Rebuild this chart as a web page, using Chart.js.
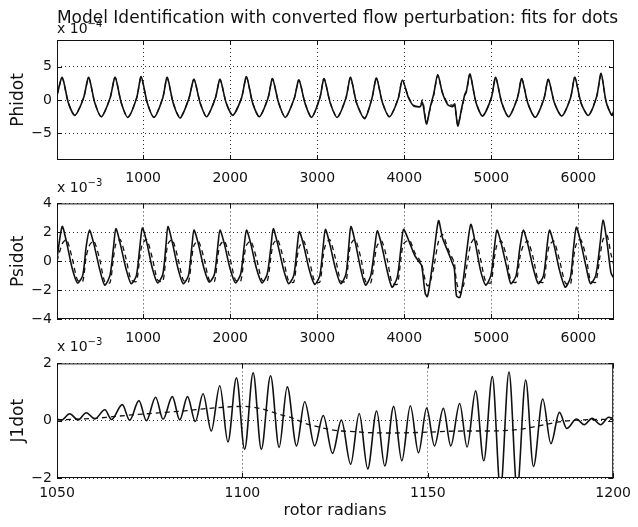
<!DOCTYPE html>
<html><head><meta charset="utf-8">
<script src="https://cdn.jsdelivr.net/npm/chart.js@4.4.1/dist/chart.umd.min.js"></script>
<style>
html,body{margin:0;padding:0;background:#fff;}
#wrap{position:relative;width:638px;height:527px;overflow:hidden;font-family:"DejaVu Sans",sans-serif;color:#111;}
canvas{position:absolute;left:0;}
.t{position:absolute;white-space:nowrap;line-height:1;}
.t sup{font-size:10px;position:relative;top:-2px;vertical-align:top;}
</style></head><body>
<div id="wrap">
<canvas id="c1" width="638" height="190" style="top:0px"></canvas>
<canvas id="c2" width="638" height="160" style="top:190px"></canvas>
<canvas id="c3" width="638" height="177" style="top:350px"></canvas>
<div class="t" style="left:57px;top:21px;font-size:14px;">x 10<sup>−4</sup></div>
<div class="t" style="left:57px;top:180px;font-size:14px;">x 10<sup>−3</sup></div>
<div class="t" style="left:57px;top:339px;font-size:14px;">x 10<sup>−3</sup></div>
<div class="t" style="left:0px;width:675px;text-align:center;top:9px;font-size:17px;">Model Identification with converted flow perturbation: fits for dots</div>
</div>
<script>
// ---------- tick labels ----------
const sampleTicks = [1000, 2000, 3000, 4000, 5000, 6000];
const radianTicks = [1050, 1100, 1150, 1200];
const phiTicksY = [-5, 0, 5];
const psiTicksY = [-4, -2, 0, 2, 4];
const j1TicksY = [-2, 0, 2];

// ---------- Panel 1: Phidot (x 10^-4) ----------
const phiX = [10,
 70,140,215,315, 374,444,520,620, 678,748,825,925, 977,1047,1125,1225,
 1276,1346,1425,1525, 1584,1654,1730,1830, 1883,1953,2030,2130, 2187,2257,2335,2435,
 2486,2556,2635,2735, 2790,2860,2935,3030, 3079,3149,3230,3330, 3383,3453,3545,3630,
 3680,3750,3830,3930,
 3978,4050,4110,4180,4210,4255,4300,4340,
 4385,4440,4500,4555,4580,4615,4660,4695,4715,
 4755,4825,4900,5000, 5050,5120,5200,5300, 5350,5420,5505,5605, 5655,5725,5810,5910,
 5960,6030,6115,6210, 6262,6320,6385,6410];
const phiMeas = [0.7,
 3.4,-0.4,-2.3,0.3, 3.4,-0.4,-2.5,0.3, 3.4,-0.4,-2.6,0.3, 3.5,-0.4,-2.6,0.3,
 3.4,-0.5,-2.7,0.2, 3.1,-0.4,-2.5,0.3, 3.1,-0.4,-2.3,0.3, 3.5,-0.4,-2.5,0.3,
 3.2,-0.4,-2.6,0.2, 3.0,-0.5,-2.6,0.3, 3.2,-0.4,-2.6,0.3, 3.4,-0.5,-2.8,0.3,
 3.3,-0.4,-2.5,0.2,
 3.0,0.3,-0.9,-1.0,-0.4,-3.6,-1.0,1.0,
 3.8,1.0,-0.7,-1.0,-0.6,-3.9,-1.2,0.8,1.4,
 3.9,-0.4,-2.4,0.3, 3.4,-0.4,-2.5,0.3, 3.2,-0.5,-2.6,0.2, 3.1,-0.4,-2.4,0.3,
 3.4,-0.4,-2.3,0.5, 4.0,-0.3,-2.3,-1.6];
const phiFit = [0.7,
 3.3,-0.4,-2.3,0.3, 3.3,-0.4,-2.5,0.3, 3.4,-0.4,-2.6,0.3, 3.4,-0.4,-2.6,0.3,
 3.3,-0.5,-2.6,0.2, 3.1,-0.4,-2.5,0.3, 3.1,-0.4,-2.3,0.3, 3.4,-0.4,-2.5,0.3,
 3.2,-0.4,-2.6,0.2, 3.0,-0.5,-2.6,0.3, 3.2,-0.4,-2.6,0.3, 3.3,-0.5,-2.7,0.3,
 3.3,-0.4,-2.5,0.2,
 3.0,0.4,-0.8,-0.9,0.0,-3.3,-1.2,0.8,
 3.7,1.1,-0.5,-0.8,-0.9,-3.7,-1.4,0.6,1.2,
 3.8,-0.4,-2.4,0.3, 3.4,-0.4,-2.5,0.3, 3.2,-0.5,-2.6,0.2, 3.1,-0.4,-2.4,0.3,
 3.4,-0.4,-2.3,0.5, 3.8,-0.3,-2.3,-1.6];

// ---------- Panel 2: Psidot (x 10^-3) ----------
const psiX = [10,
 70,120,185,245,305,345,
 383,433,498,558,618,658,
 687,737,802,862,922,962,
 991,1041,1106,1166,1226,1262,
 1285,1335,1400,1460,1520,1558,
 1584,1634,1699,1759,1819,1857,
 1883,1933,1998,2060,2120,2160,
 2187,2237,2302,2365,2425,2468,
 2495,2545,2610,2670,2730,2768,
 2794,2844,2909,2970,3030,3068,
 3094,3144,3209,3270,3330,3362,
 3387,3437,3502,3555,3615,3660,
 3690,3740,3805,3860,3920,3962,
 3992,4060,4120,4165,4200,4240,4265,4290,4340,
 4394,4440,4500,4545,4575,4600,4640,4680,4720,
 4765,4815,4875,4935,4995,5035,
 5065,5115,5180,5225,5285,5330,
 5368,5418,5483,5540,5600,5640,
 5668,5718,5783,5850,5910,5945,
 5978,6028,6093,6140,6200,6250,
 6284,6330,6375,6410];
const psiMeas = [0.2,
 2.4,1.3,-0.5,-1.5,-1.0,1.0,
 2.15,1.2,-0.5,-1.65,-1.0,0.9,
 2.25,1.2,-0.5,-1.55,-1.0,1.0,
 2.3,1.3,-0.5,-1.5,-0.9,1.1,
 2.4,1.3,-0.5,-1.55,-1.0,0.9,
 2.15,1.2,-0.5,-1.45,-0.9,1.0,
 2.15,1.2,-0.5,-1.5,-0.9,1.0,
 2.15,1.2,-0.5,-1.5,-0.9,1.0,
 2.25,1.2,-0.5,-1.55,-1.0,0.9,
 2.05,1.1,-0.6,-1.6,-1.0,1.0,
 2.2,1.2,-0.5,-1.55,-0.9,1.0,
 2.4,1.3,-0.6,-1.65,-1.0,0.9,
 2.1,1.1,-0.7,-1.8,-1.1,0.9,
 2.2,1.3,0.4,0.0,-0.3,-2.2,-2.45,-1.7,0.5,
 2.8,1.6,0.7,0.0,-0.5,-2.4,-2.5,-1.2,0.8,
 2.55,1.3,-0.6,-1.65,-1.0,0.9,
 2.15,1.2,-0.5,-1.55,-1.0,1.0,
 2.15,1.2,-0.5,-1.55,-1.0,1.0,
 2.15,1.2,-0.6,-1.8,-1.1,0.9,
 2.35,1.3,-0.5,-1.55,-1.0,1.2,
 2.85,1.3,-0.8,-1.2];
const psiFit = [0.0,
 1.2,1.5,0.2,-1.3,-1.4,0.3,
 1.1,1.4,0.2,-1.4,-1.5,0.2,
 1.2,1.5,0.2,-1.3,-1.4,0.3,
 1.2,1.5,0.2,-1.3,-1.4,0.3,
 1.2,1.5,0.2,-1.3,-1.45,0.2,
 1.1,1.4,0.2,-1.3,-1.4,0.3,
 1.1,1.4,0.2,-1.3,-1.4,0.3,
 1.1,1.4,0.2,-1.3,-1.4,0.3,
 1.2,1.5,0.2,-1.35,-1.45,0.2,
 1.0,1.4,0.1,-1.4,-1.45,0.3,
 1.1,1.5,0.2,-1.35,-1.4,0.3,
 1.2,1.5,0.2,-1.4,-1.5,0.2,
 1.1,1.4,0.1,-1.5,-1.6,0.2,
 1.2,1.45,0.6,0.2,-0.2,-1.3,-1.7,-1.6,-0.4,
 1.4,1.85,0.9,0.3,-0.1,-1.4,-2.2,-1.7,-0.3,
 1.2,1.6,0.2,-1.4,-1.5,0.2,
 1.1,1.4,0.2,-1.35,-1.45,0.3,
 1.1,1.4,0.2,-1.35,-1.45,0.3,
 1.1,1.4,0.1,-1.5,-1.6,0.2,
 1.2,1.5,0.2,-1.35,-1.45,0.4,
 1.5,1.8,0.5,-0.3];

// ---------- Panel 3: J1dot (x 10^-3) vs rotor radians ----------
const j1X = [1050,1051.2,1053.4,1055.7,1057.9,1060.2,1062.9,1064.7,1067.6,1069.6,
 1072.1,1074.1,1076.6,1078.6,1081.1,1083.1,1085.2,1087.3,1089.4,1091.6,
 1093.9,1096.1,1098.4,1100.6,1102.9,1105.1,1107.6,1109.9,1112.1,1114.6,
 1116.8,1119.5,1121.8,1124.3,1126.7,1129.2,1131.5,1133.8,1136.2,1138.4,
 1140.8,1143.0,1145.3,1147.5,1149.7,1151.8,1154.2,1156.2,1158.6,1160.6,
 1162.9,1165.1,1167.4,1169.6,1171.9,1174.1,1176.4,1178.5,1181.0,1183.2,
 1185.5,1187.5,1190.1,1192.2,1194.3,1196.6,1198.8,1200];
const j1Meas = [0.06,0.02,0.24,0.03,0.28,0.06,0.38,0.04,0.56,0.02,
 0.70,0.0,0.82,0.05,0.84,0.03,0.84,-0.03,0.94,-0.36,
 1.22,-0.74,1.50,-1.0,1.67,-1.0,1.57,-0.93,1.18,-0.88,
 0.66,-0.88,0.18,-1.14,0.02,-1.52,0.25,-1.68,0.34,-1.58,
 0.50,-1.40,0.52,-1.12,0.44,-0.88,0.43,-0.88,0.60,-0.92,
 1.04,-1.40,1.54,-2.4,1.70,-2.4,1.42,-1.60,0.76,-0.80,
 0.29,-0.27,0.06,-0.14,0.08,-0.14,0.12,0.08];
const j1FitX = [1050,1055,1060,1065,1070,1075,1080,1085,1090,1095,1100,1105,1110,1113,1117,
 1120,1125,1130,1135,1140,1145,1150,1155,1160,1165,1170,1175,1180,1185,1190,1195,1200];
const j1Fit = [0.03,0.05,0.08,0.14,0.20,0.25,0.30,0.35,0.42,0.47,0.50,0.42,0.22,0.12,-0.10,
 -0.20,-0.34,-0.38,-0.42,-0.43,-0.42,-0.40,-0.37,-0.36,-0.36,-0.35,-0.30,-0.18,-0.05,0.02,0.04,0.05];

// ---------- common helpers ----------
const INK = '#111';
const FONT = 'DejaVu Sans';
Chart.defaults.font.family = FONT;
Chart.defaults.color = INK;
const fmt = v => (v < 0 ? '\u2212' + Math.abs(v) : String(v));
const pts = (xs, ys) => xs.map((x, i) => ({x: x, y: ys[i]}));

const framePlugin = {
  id: 'frame',
  afterDraw(chart) {
    const {ctx, chartArea: a, scales} = chart;
    ctx.save();
    ctx.strokeStyle = INK; ctx.lineWidth = 1; ctx.setLineDash([]);
    ctx.strokeRect(a.left + 0.5, a.top + 0.5, a.right - a.left - 1, a.bottom - a.top - 1);
    const L = 5;
    ctx.beginPath();
    scales.x.ticks.forEach(t => {
      const p = Math.round(scales.x.getPixelForValue(t.value)) + 0.5;
      ctx.moveTo(p, a.bottom); ctx.lineTo(p, a.bottom - L);
      ctx.moveTo(p, a.top); ctx.lineTo(p, a.top + L);
    });
    scales.y.ticks.forEach(t => {
      const p = Math.round(scales.y.getPixelForValue(t.value)) + 0.5;
      ctx.moveTo(a.left, p); ctx.lineTo(a.left + L, p);
      ctx.moveTo(a.right, p); ctx.lineTo(a.right - L, p);
    });
    ctx.stroke();
    ctx.restore();
  }
};

function gridOpts() {
  return { color: '#333', lineWidth: 1, drawTicks: false };
}
function borderOpts() {
  return { display: false, dash: [1, 3] };
}

function makeChart(id, cfg) {
  return new Chart(document.getElementById(id), {
    type: 'line',
    data: { datasets: cfg.datasets },
    plugins: [framePlugin],
    options: {
      responsive: false, animation: false, events: [],
      layout: { padding: { top: cfg.padTop, right: 24, left: 0, bottom: 0 } },
      plugins: { legend: { display: false }, tooltip: { enabled: false }, title: { display: false } },
      elements: { point: { radius: 0 } },
      scales: {
        x: {
          type: 'linear', min: cfg.xmin, max: cfg.xmax,
          afterBuildTicks: s => { s.ticks = cfg.xticks.map(v => ({ value: v })); },
          ticks: { padding: cfg.xpad, maxRotation: 0, autoSkip: false,
                   color: INK, font: { family: FONT, size: 14 }, callback: v => String(v) },
          grid: gridOpts(), border: borderOpts(),
          title: cfg.xtitle ? { display: true, text: cfg.xtitle, color: INK, font: { family: FONT, size: 16 },
                   padding: { top: 0, bottom: 7 } } : { display: false },
          afterFit: s => { s.height = cfg.xh; }
        },
        y: {
          min: cfg.ymin, max: cfg.ymax,
          afterBuildTicks: s => { s.ticks = cfg.yticks.map(v => ({ value: v })); },
          ticks: { padding: 5, color: INK, font: { family: FONT, size: 14 }, callback: v => fmt(v) },
          grid: gridOpts(), border: borderOpts(),
          title: { display: true, text: cfg.ytitle, color: INK, font: { family: FONT, size: 17 },
                   padding: { top: 8, bottom: 0 } },
          afterFit: s => { s.width = 57; }
        }
      }
    }
  });
}

function solid(data, mode) {
  return { data: data, borderColor: INK, borderWidth: 1.6, fill: false, tension: mode === 'mono' ? 0 : 0.25,
           cubicInterpolationMode: mode === 'mono' ? 'monotone' : 'default', pointRadius: 0 };
}
function dashed(data, mode) {
  return { data: data, borderColor: INK, borderWidth: 1.3, borderDash: [5, 4], fill: false,
           tension: mode === 'mono' ? 0 : 0.25,
           cubicInterpolationMode: mode === 'mono' ? 'monotone' : 'default', pointRadius: 0 };
}

makeChart('c1', {
  padTop: 40, xh: 30, xpad: 10, xmin: 10, xmax: 6410, xticks: sampleTicks, ymin: -9, ymax: 9, yticks: phiTicksY,
  ytitle: 'Phidot',
  datasets: [dashed(pts(phiX, phiFit)), solid(pts(phiX, phiMeas))]
});
makeChart('c2', {
  padTop: 9, xh: 31, xpad: 11, xmin: 10, xmax: 6410, xticks: sampleTicks, ymin: -4, ymax: 4, yticks: psiTicksY,
  ytitle: 'Psidot',
  datasets: [dashed(pts(psiX, psiFit)), solid(pts(psiX, psiMeas))]
});
makeChart('c3', {
  padTop: 8, xh: 49, xpad: 7, xmin: 1050, xmax: 1200, xticks: radianTicks, ymin: -2, ymax: 2, yticks: j1TicksY,
  ytitle: 'J1dot', xtitle: 'rotor radians',
  datasets: [dashed(pts(j1FitX, j1Fit), 'mono'), solid(pts(j1X, j1Meas), 'mono')]
});
</script>
</body></html>
